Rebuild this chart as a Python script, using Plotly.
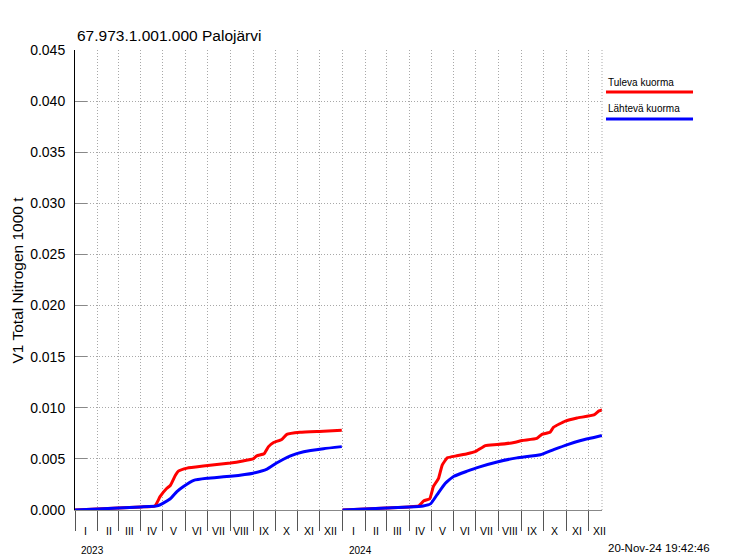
import plotly.graph_objects as go

# ---- data ----
months_roman = ["I", "II", "III", "IV", "V", "VI", "VII", "VIII", "IX", "X", "XI", "XII"]
years = [2023, 2024]

in_2023_dates = ["2023-01-01", "2023-02-01", "2023-03-01", "2023-04-01", "2023-04-20", "2023-04-27",
                 "2023-05-06", "2023-05-11", "2023-05-18", "2023-05-22", "2023-06-03", "2023-06-25",
                 "2023-08-01", "2023-08-18", "2023-09-01", "2023-09-06", "2023-09-16", "2023-09-22",
                 "2023-09-29", "2023-10-10", "2023-10-17", "2023-11-04", "2023-12-06", "2023-12-31"]
in_2023_vals = [0.0, 0.0001, 0.0002, 0.0003, 0.0004, 0.0013,
                0.0021, 0.0024, 0.0034, 0.0038, 0.0041, 0.0043,
                0.0046, 0.0048, 0.0050, 0.0053, 0.0055, 0.0062,
                0.0066, 0.0069, 0.0074, 0.0076, 0.0077, 0.0078]

out_2023_dates = ["2023-01-01", "2023-02-01", "2023-03-01", "2023-04-01", "2023-04-23", "2023-05-02",
                  "2023-05-11", "2023-05-20", "2023-05-29", "2023-06-12", "2023-06-30", "2023-08-01",
                  "2023-09-01", "2023-09-20", "2023-10-03", "2023-10-22", "2023-11-09", "2023-12-06",
                  "2023-12-31"]
out_2023_vals = [0.0, 0.0001, 0.0002, 0.0003, 0.0004, 0.0007,
                 0.0011, 0.0018, 0.0023, 0.0029, 0.0031, 0.0033,
                 0.0036, 0.0040, 0.0046, 0.0053, 0.0057, 0.0060,
                 0.0062]

in_2024_dates = ["2024-01-01", "2024-02-01", "2024-03-01", "2024-04-01", "2024-04-14", "2024-04-21",
                 "2024-04-29", "2024-05-04", "2024-05-11", "2024-05-16", "2024-05-23", "2024-06-05",
                 "2024-06-19", "2024-06-30", "2024-07-14", "2024-07-30", "2024-08-22", "2024-09-02",
                 "2024-09-22", "2024-09-29", "2024-10-10", "2024-10-15", "2024-10-31", "2024-11-16",
                 "2024-12-09", "2024-12-16", "2024-12-20"]
in_2024_vals = [0.0, 0.0001, 0.0002, 0.0003, 0.0004, 0.0009,
                0.0011, 0.0023, 0.0031, 0.0044, 0.0051, 0.0053,
                0.0055, 0.0057, 0.0063, 0.0064, 0.0066, 0.0068,
                0.0070, 0.0074, 0.0076, 0.0081, 0.0087, 0.0090,
                0.0093, 0.0097, 0.0098]

out_2024_dates = ["2024-01-01", "2024-02-01", "2024-03-01", "2024-04-01", "2024-04-20", "2024-04-30",
                  "2024-05-09", "2024-05-20", "2024-06-01", "2024-06-19", "2024-07-05", "2024-07-30",
                  "2024-08-26", "2024-09-27", "2024-10-15", "2024-11-03", "2024-11-21", "2024-12-09",
                  "2024-12-20"]
out_2024_vals = [0.0, 0.0001, 0.0002, 0.0003, 0.0004, 0.0006,
                 0.0015, 0.0026, 0.0033, 0.0038, 0.0042, 0.0047,
                 0.0051, 0.0054, 0.0059, 0.0064, 0.0068, 0.0071,
                 0.0073]

series_names = ["Tuleva kuorma", "Lähtevä kuorma"]
series_colors = ["#ff0000", "#0000ff"]
title_text = "67.973.1.001.000 Palojärvi"
y_title = "V1 Total Nitrogen 1000 t"
timestamp = "20-Nov-24 19:42:46"
x_range = ["2023-01-01", "2024-12-20"]
y_range = [0, 0.045]
y_ticks = [0.0, 0.005, 0.010, 0.015, 0.020, 0.025, 0.030, 0.035, 0.040, 0.045]

FONT = "Liberation Sans, Arial, sans-serif"
GRID_DASH = "1px,2px"

fig = go.Figure()

series = [
    (in_2023_dates + [None] + in_2024_dates, in_2023_vals + [None] + in_2024_vals),
    (out_2023_dates + [None] + out_2024_dates, out_2023_vals + [None] + out_2024_vals),
]
for (xs, ys), name, col in zip(series, series_names, series_colors):
    fig.add_trace(go.Scatter(x=xs, y=ys, mode="lines", name=name, showlegend=False,
                             line=dict(color=col, width=3, shape="spline", smoothing=0.4),
                             connectgaps=False, cliponaxis=True))

# month tick positions and labels
month_starts = []
month_mids = []
month_labels = []
for yr in years:
    for m in range(1, 13):
        month_starts.append(f"{yr}-{m:02d}-01")
        month_mids.append(f"{yr}-{m:02d}-16")
        month_labels.append(months_roman[m - 1])

fig.update_layout(
    width=747, height=552,
    margin=dict(l=67, r=153, t=42, b=50),
    paper_bgcolor="white", plot_bgcolor="white",
    font=dict(family=FONT, color="black", size=10),
    xaxis=dict(type="date", range=x_range, tickvals=month_starts, showticklabels=False,
               ticks="outside", ticklen=20, tickcolor="#555", tickwidth=1,
               showgrid=True, gridcolor="#a8a8a8", griddash=GRID_DASH, gridwidth=1,
               showline=True, linecolor="#888", linewidth=1, zeroline=False),
    yaxis=dict(range=y_range, tickvals=y_ticks, tickformat=".3f",
               ticks="inside", ticklen=12, tickcolor="#888",
               tickfont=dict(size=14, family=FONT), ticklabelstandoff=6,
               showgrid=True, gridcolor="#a8a8a8", griddash=GRID_DASH, gridwidth=1,
               showline=True, linecolor="black", linewidth=1, zeroline=False),
)

ann = []
for xm, lab in zip(month_mids, month_labels):
    ann.append(dict(x=xm, y=-0.0457, xref="x", yref="paper", text=lab, showarrow=False,
                    font=dict(size=10.5, family=FONT), xanchor="center", yanchor="middle"))
for yr in years:
    ann.append(dict(x=f"{yr}-01-01", y=-0.0891, xref="x", yref="paper", text=str(yr), showarrow=False,
                    font=dict(size=10, family=FONT), xanchor="left", yanchor="middle", xshift=4))
ann.append(dict(x=1.0076, y=-0.0826, xref="paper", yref="paper", text=timestamp, showarrow=False,
                font=dict(size=11.5, family=FONT), xanchor="left", yanchor="middle"))
ann.append(dict(x=0, y=1.0, xref="paper", yref="paper", text=title_text, showarrow=False,
                font=dict(size=15.5, family=FONT), xanchor="left", yanchor="bottom", yshift=4))
ann.append(dict(x=-0.111, y=0.5, xref="paper", yref="paper", text=y_title, showarrow=False,
                textangle=-90, font=dict(size=15.5, family=FONT), xanchor="center", yanchor="middle"))
# legend
leg_y_text = [0.9304, 0.8739]
leg_y_line = [0.9087, 0.85]
shapes = []
for name, col, yt, yl in zip(series_names, series_colors, leg_y_text, leg_y_line):
    ann.append(dict(x=1.0076, y=yt, xref="paper", yref="paper", text=name, showarrow=False,
                    font=dict(size=10, family=FONT), xanchor="left", yanchor="middle"))
    shapes.append(dict(type="line", xref="paper", yref="paper", x0=1.0076, x1=1.1727, y0=yl, y1=yl,
                       line=dict(color=col, width=3)))
shapes.append(dict(type="line", xref="paper", yref="paper", x0=1, x1=1, y0=0, y1=1,
                   line=dict(color="#a8a8a8", width=1, dash=GRID_DASH)))
fig.update_layout(annotations=ann, shapes=shapes)

fig.write_html("out.html")
